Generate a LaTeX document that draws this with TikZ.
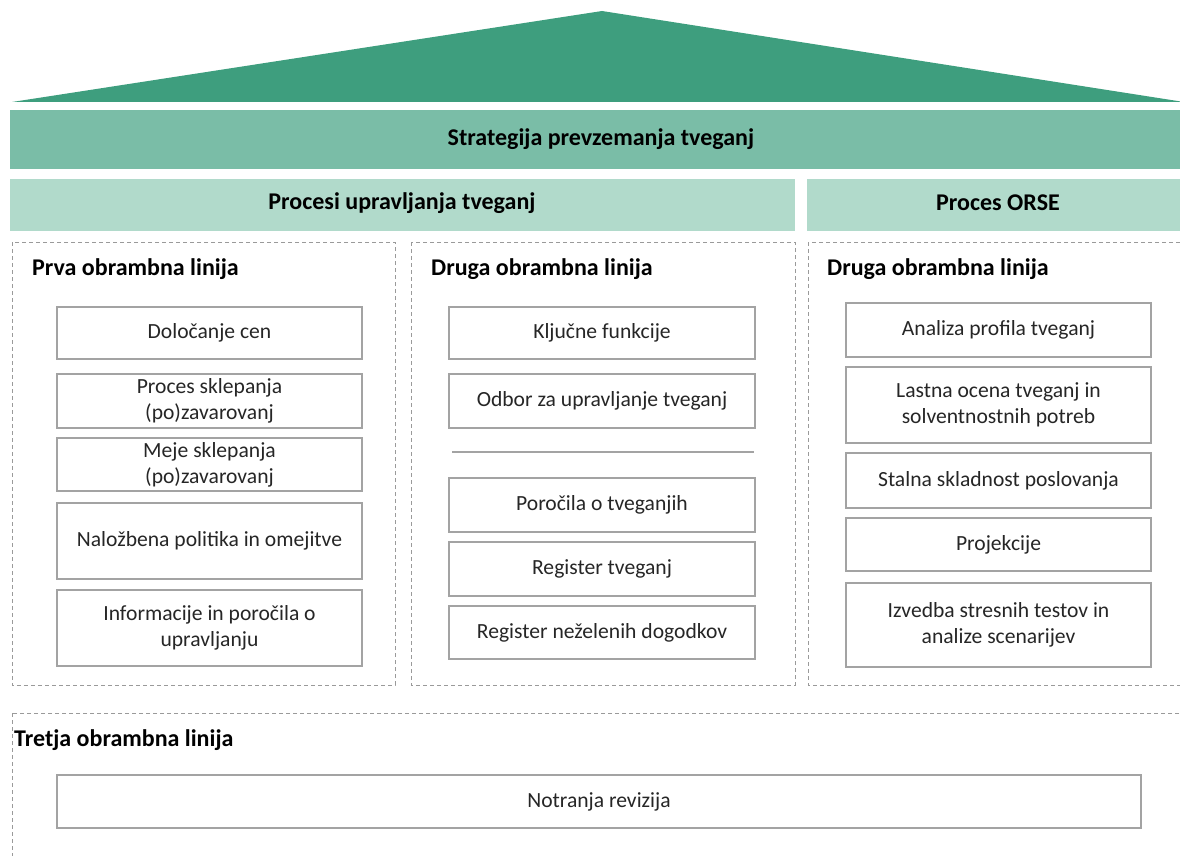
\documentclass[tikz,border=0pt]{standalone}
\usepackage{fontspec}
\setmainfont{Carlito}
\begin{document}
\begin{tikzpicture}[x=1pt,y=-1pt,
  box/.style={draw=boxgray, line width=1.6pt, fill=white, align=center, text=txtgray, font=\fontsize{21.6}{25.7}\selectfont, inner sep=2pt},
  dbox/.style={draw=dashgray, line width=0.9pt, dash pattern=on 4pt off 3pt},
  ttl/.style={anchor=west, font=\fontsize{24}{28}\selectfont\bfseries, inner sep=0pt},
  band/.style={font=\fontsize{24}{28}\selectfont\bfseries, inner sep=0pt}]
\definecolor{dkgreen}{HTML}{3E9E7E}
\definecolor{mdgreen}{HTML}{7ABDA7}
\definecolor{ltgreen}{HTML}{B1DACB}
\definecolor{boxgray}{HTML}{A3A3A3}
\definecolor{dashgray}{HTML}{9A9A9A}
\definecolor{txtgray}{HTML}{262626}
\useasboundingbox (0,0) rectangle (1180,856);
\clip (0,0) rectangle (1180,856);
% roof
\fill[dkgreen] (12,102) -- (602,11) -- (1184,102) -- cycle;
% bands
\fill[mdgreen] (10,110) rectangle (1190,169);
\node[band] (strat) at (601,139) {Strategija prevzemanja tveganj};
\fill[ltgreen] (10,179) rectangle (795,231);
\node[band] (proc) at (402,203) {Procesi upravljanja tveganj};
\fill[ltgreen] (807,179) rectangle (1190,231);
\node[band] (orse) at (998,203) {Proces ORSE};
% dashed containers
\draw[dbox] (12,242) rectangle (395,685);
\draw[dbox] (411,242) rectangle (795,685);
\draw[dbox] (808,242) rectangle (1195,685);
\draw[dbox] (12,713) rectangle (1195,880);
% titles
\node[ttl] (t1) at (32,269) {Prva obrambna linija};
\node[ttl] (t2) at (431,269) {Druga obrambna linija};
\node[ttl] (t3) at (827,269) {Druga obrambna linija};
\node[ttl] (t4) at (14,740) {Tretja obrambna linija};
% left column
\node[box, minimum width=305pt, minimum height=52pt] (a1) at (209.5,333) {Določanje cen};
\node[box, minimum width=305pt, minimum height=54pt] (a2) at (209.5,401) {Proces sklepanja\\(po)zavarovanj};
\node[box, minimum width=305pt, minimum height=53pt] (a3) at (209.5,464.5) {Meje sklepanja\\(po)zavarovanj};
\node[box, minimum width=305pt, minimum height=76pt] (a4) at (209.5,541) {Naložbena politika in omejitve};
\node[box, minimum width=305pt, minimum height=76pt] (a5) at (209.5,628) {Informacije in poročila o\\upravljanju};
% middle column
\node[box, minimum width=306pt, minimum height=52pt] (b1) at (602,333) {Ključne funkcije};
\node[box, minimum width=306pt, minimum height=54pt] (b2) at (602,401) {Odbor za upravljanje tveganj};
\coordinate (sepL) at (452,452);
\coordinate (sepR) at (754,452);
\draw[boxgray, line width=1.6pt] (sepL) -- (sepR);
\node[box, minimum width=306pt, minimum height=54pt] (b3) at (602,505) {Poročila o tveganjih};
\node[box, minimum width=306pt, minimum height=54pt] (b4) at (602,569) {Register tveganj};
\node[box, minimum width=306pt, minimum height=53pt] (b5) at (602,632.5) {Register neželenih dogodkov};
% right column
\node[box, minimum width=305pt, minimum height=54pt] (c1) at (998.5,330) {Analiza profila tveganj};
\node[box, minimum width=305pt, minimum height=76pt] (c2) at (998.5,405) {Lastna ocena tveganj in\\solventnostnih potreb};
\node[box, minimum width=305pt, minimum height=55pt] (c3) at (998.5,480.5) {Stalna skladnost poslovanja};
\node[box, minimum width=305pt, minimum height=53pt] (c4) at (998.5,544.5) {Projekcije};
\node[box, minimum width=305pt, minimum height=84pt] (c5) at (998.5,625) {Izvedba stresnih testov in\\analize scenarijev};
% bottom
\node[box, minimum width=1084pt, minimum height=53pt] (d1) at (599,801.5) {Notranja revizija};
\end{tikzpicture}
\end{document}
